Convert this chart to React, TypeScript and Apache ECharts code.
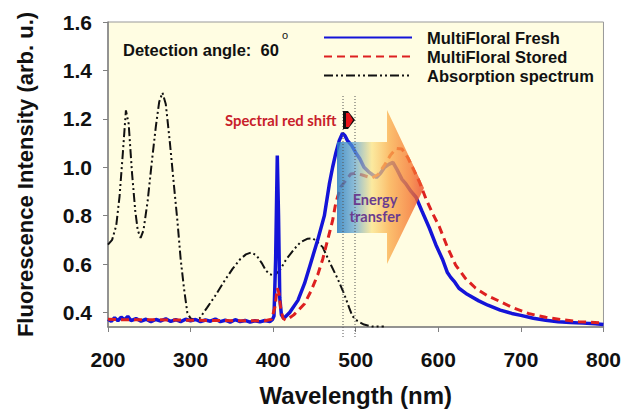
import React, { useEffect, useRef } from "react";
import * as echarts from "echarts";

const xTicks = [200, 300, 400, 500, 600, 700, 800];
const yTicks = [0.4, 0.6, 0.8, 1.0, 1.2, 1.4, 1.6];

const freshX = [200, 204, 208, 212, 216, 220, 224, 228, 234, 240, 246, 252, 258, 264, 270, 276, 282, 288, 294, 300, 306, 312, 318, 324, 330, 336, 342, 348, 354, 360, 366, 372, 378, 384, 390, 396, 399, 401, 403, 405, 406.5, 408, 410, 413, 420, 430, 438, 446, 454, 462, 468, 472, 476, 480, 484, 487, 490, 495, 500, 505, 510, 516, 520, 525, 530, 535, 540, 545, 550, 556, 561, 567, 573, 580, 589, 597, 605, 611, 615, 620, 625, 635, 649, 660, 675, 689, 700, 715, 730, 745, 760, 775, 790, 800];
const freshY = [0.372, 0.364, 0.378, 0.366, 0.381, 0.37, 0.384, 0.366, 0.375, 0.364, 0.372, 0.362, 0.371, 0.365, 0.374, 0.363, 0.37, 0.362, 0.372, 0.366, 0.371, 0.362, 0.369, 0.364, 0.373, 0.362, 0.368, 0.36, 0.37, 0.362, 0.367, 0.36, 0.366, 0.361, 0.367, 0.362, 0.37, 0.385, 0.62, 1.048, 0.8, 0.46, 0.39, 0.376, 0.4, 0.45, 0.52, 0.61, 0.7, 0.8, 0.93, 1.0, 1.06, 1.11, 1.14, 1.13, 1.11, 1.09, 1.06, 1.035, 1.0, 0.98, 0.97, 0.958, 0.975, 1.0, 1.012, 1.02, 0.99, 0.95, 0.93, 0.9, 0.876, 0.82, 0.75, 0.68, 0.62, 0.565, 0.545, 0.525, 0.5, 0.475, 0.448, 0.43, 0.41, 0.396, 0.388, 0.376, 0.368, 0.362, 0.359, 0.356, 0.353, 0.35];

const storedX = [200, 220, 250, 280, 300, 330, 360, 390, 398, 402, 405, 407, 409, 412, 416, 425, 438, 446, 454, 460, 466, 472, 476, 482, 488, 494, 500, 508, 515, 520, 527, 535, 542, 549, 556, 563, 570, 577, 585, 593, 601, 611, 621, 633, 645, 659, 673, 690, 709, 730, 750, 770, 800];
const storedY = [0.372, 0.37, 0.37, 0.369, 0.368, 0.367, 0.366, 0.366, 0.372, 0.42, 0.5, 0.48, 0.42, 0.375, 0.368, 0.39, 0.436, 0.49, 0.556, 0.62, 0.7, 0.78, 0.856, 0.92, 0.945, 0.972, 0.975, 0.968, 0.96, 0.956, 0.97, 1.01, 1.05, 1.078, 1.075, 1.04, 0.99, 0.94, 0.87, 0.81, 0.756, 0.67, 0.596, 0.54, 0.501, 0.47, 0.448, 0.42, 0.396, 0.38, 0.37, 0.362, 0.357];

const absorbX = [200, 205, 210, 214, 218, 221.7, 225, 229, 233, 236, 239.5, 243, 248, 253, 258, 262, 266, 270, 275, 280, 284, 288, 292, 296, 300, 305, 311, 320, 330, 340, 351, 360, 367, 373.5, 380, 386, 391.5, 396, 401.6, 408, 416, 425, 433, 441.8, 448, 452, 460, 470, 478, 486, 492, 496, 502, 510, 520, 534];
const absorbY = [0.68, 0.7, 0.76, 0.88, 1.06, 1.235, 1.18, 0.98, 0.82, 0.74, 0.708, 0.74, 0.86, 1.02, 1.17, 1.27, 1.308, 1.26, 1.1, 0.92, 0.78, 0.62, 0.5, 0.4, 0.375, 0.37, 0.376, 0.42, 0.47, 0.525, 0.581, 0.62, 0.64, 0.648, 0.635, 0.605, 0.572, 0.558, 0.552, 0.575, 0.62, 0.66, 0.69, 0.705, 0.706, 0.696, 0.67, 0.596, 0.54, 0.476, 0.42, 0.385, 0.365, 0.35, 0.342, 0.342];

const zip = (xs: number[], ys: number[]) => xs.map((x, i) => [x, ys[i]]);

const FONT = "'Liberation Sans', Arial, sans-serif";

export default function App() {
  const ref = useRef<HTMLDivElement>(null);
  useEffect(() => {
    if (!ref.current) return;
    const chart = echarts.init(ref.current, undefined, { renderer: "svg" });
    chart.setOption({
      animation: false,
      backgroundColor: "#ffffff",
      grid: {
        left: 108,
        right: 19,
        top: 22,
        bottom: 74,
        show: true,
        backgroundColor: "#FFFDE2",
        borderColor: "#999999",
        borderWidth: 1,
      },
      legend: {
        orient: "vertical",
        left: 318,
        top: 24,
        itemWidth: 88,
        itemHeight: 14,
        itemGap: 2,
        itemStyle: { opacity: 0 },
        textStyle: {
          fontFamily: FONT,
          fontWeight: "bold",
          fontSize: 16.5,
          color: "#111",
          padding: [0, 0, 0, 10],
        },
        data: ["MultiFloral Fresh", "MultiFloral Stored", "Absorption spectrum"],
      },
      xAxis: {
        type: "value",
        min: 200,
        max: 800,
        interval: 100,
        name: "Wavelength (nm)",
        nameLocation: "middle",
        nameGap: 56,
        nameTextStyle: { fontFamily: FONT, fontWeight: "bold", fontSize: 24, color: "#111" },
        axisLine: { lineStyle: { color: "#808080", width: 1.5 } },
        axisTick: { show: true, length: 5, lineStyle: { color: "#808080" } },
        axisLabel: {
          fontFamily: FONT,
          fontWeight: "bold",
          fontSize: 21,
          color: "#111",
          margin: 22,
          formatter: (v: number) => (xTicks.includes(v) ? String(v) : ""),
        },
        splitLine: { show: false },
      },
      yAxis: {
        type: "value",
        min: 0.34,
        max: 1.6,
        name: "Fluorescence Intensity (arb. u.)",
        nameLocation: "middle",
        nameGap: 72,
        nameTextStyle: { fontFamily: FONT, fontWeight: "bold", fontSize: 22, color: "#111" },
        axisLine: { show: true, lineStyle: { color: "#808080", width: 1.5 } },
        axisTick: { show: true, length: 5, customValues: yTicks, lineStyle: { color: "#808080" } },
        axisLabel: {
          fontFamily: FONT,
          fontWeight: "bold",
          fontSize: 21,
          color: "#111",
          margin: 16,
          customValues: yTicks,
          formatter: (v: number) => v.toFixed(1),
        },
        splitLine: { show: false },
      },
      series: [
        {
          name: "MultiFloral Fresh",
          type: "line",
          symbol: "none",
          data: zip(freshX, freshY),
          lineStyle: { color: "#1414d8", width: 3.5 },
          itemStyle: { color: "#1414d8" },
          z: 3,
        },
        {
          name: "MultiFloral Stored",
          type: "line",
          symbol: "none",
          data: zip(storedX, storedY),
          lineStyle: { color: "#dd2020", width: 3, type: [8, 5] },
          itemStyle: { color: "#dd2020" },
          z: 4,
        },
        {
          name: "Absorption spectrum",
          type: "line",
          symbol: "none",
          data: zip(absorbX, absorbY),
          lineStyle: { color: "#111111", width: 2, type: [9, 3, 2, 3, 2, 3] },
          itemStyle: { color: "#111111" },
          z: 2,
        },
      ],
      graphic: [
        {
          type: "polygon",
          z: 10,
          shape: {
            points: [
              [337, 142],
              [387, 142],
              [387, 110],
              [424, 188],
              [387, 264],
              [387, 233],
              [337, 233],
            ],
          },
          style: {
            fill: new echarts.graphic.LinearGradient(0, 0, 1, 0, [
              { offset: 0, color: "rgba(40,125,195,0.85)" },
              { offset: 0.2, color: "rgba(90,160,210,0.7)" },
              { offset: 0.4, color: "rgba(250,225,130,0.7)" },
              { offset: 0.6, color: "rgba(250,175,80,0.8)" },
              { offset: 0.85, color: "rgba(245,120,50,0.8)" },
              { offset: 1, color: "rgba(235,70,40,0.8)" },
            ]),
          },
        },
        {
          type: "line",
          z: 11,
          shape: { x1: 343, y1: 96, x2: 343, y2: 338 },
          style: { stroke: "#555", lineWidth: 1, lineDash: [1, 2] },
        },
        {
          type: "line",
          z: 11,
          shape: { x1: 355, y1: 96, x2: 355, y2: 338 },
          style: { stroke: "#555", lineWidth: 1, lineDash: [1, 2] },
        },
        {
          type: "polygon",
          z: 12,
          shape: { points: [[343, 111], [348, 111], [355, 120], [348, 129], [343, 129]] },
          style: { fill: "#111" },
        },
        {
          type: "polygon",
          z: 13,
          shape: { points: [[346, 113], [349, 113], [353, 120], [349, 127], [346, 127]] },
          style: { fill: "#e8141a" },
        },
        {
          type: "text",
          z: 12,
          x: 225,
          y: 120,
          style: {
            text: "Spectral red shift",
            fontFamily: "Lato, 'Open Sans', sans-serif",
            fontWeight: "bold",
            fontSize: 14.8,
            fill: "#c8202a",
            verticalAlign: "middle",
          },
        },
        {
          type: "text",
          z: 12,
          x: 375,
          y: 208,
          style: {
            text: "Energy\ntransfer",
            fontFamily: "Lato, 'Open Sans', sans-serif",
            fontWeight: "bold",
            fontSize: 14.5,
            lineHeight: 17,
            fill: "#6b3d8f",
            align: "center",
            verticalAlign: "middle",
          },
        },
        {
          type: "text",
          z: 12,
          x: 123,
          y: 50,
          style: {
            text: "Detection angle:  60",
            fontFamily: FONT,
            fontWeight: "bold",
            fontSize: 16.5,
            fill: "#111",
            verticalAlign: "middle",
          },
        },
        {
          type: "text",
          z: 12,
          x: 282,
          y: 35,
          style: {
            text: "o",
            fontFamily: FONT,
            fontSize: 11,
            fill: "#111",
            verticalAlign: "middle",
          },
        },
      ],
    });
    return () => chart.dispose();
  }, []);
  return <div ref={ref} style={{ width: 624, height: 412, position: "absolute", left: 0, top: 0 }} />;
}
